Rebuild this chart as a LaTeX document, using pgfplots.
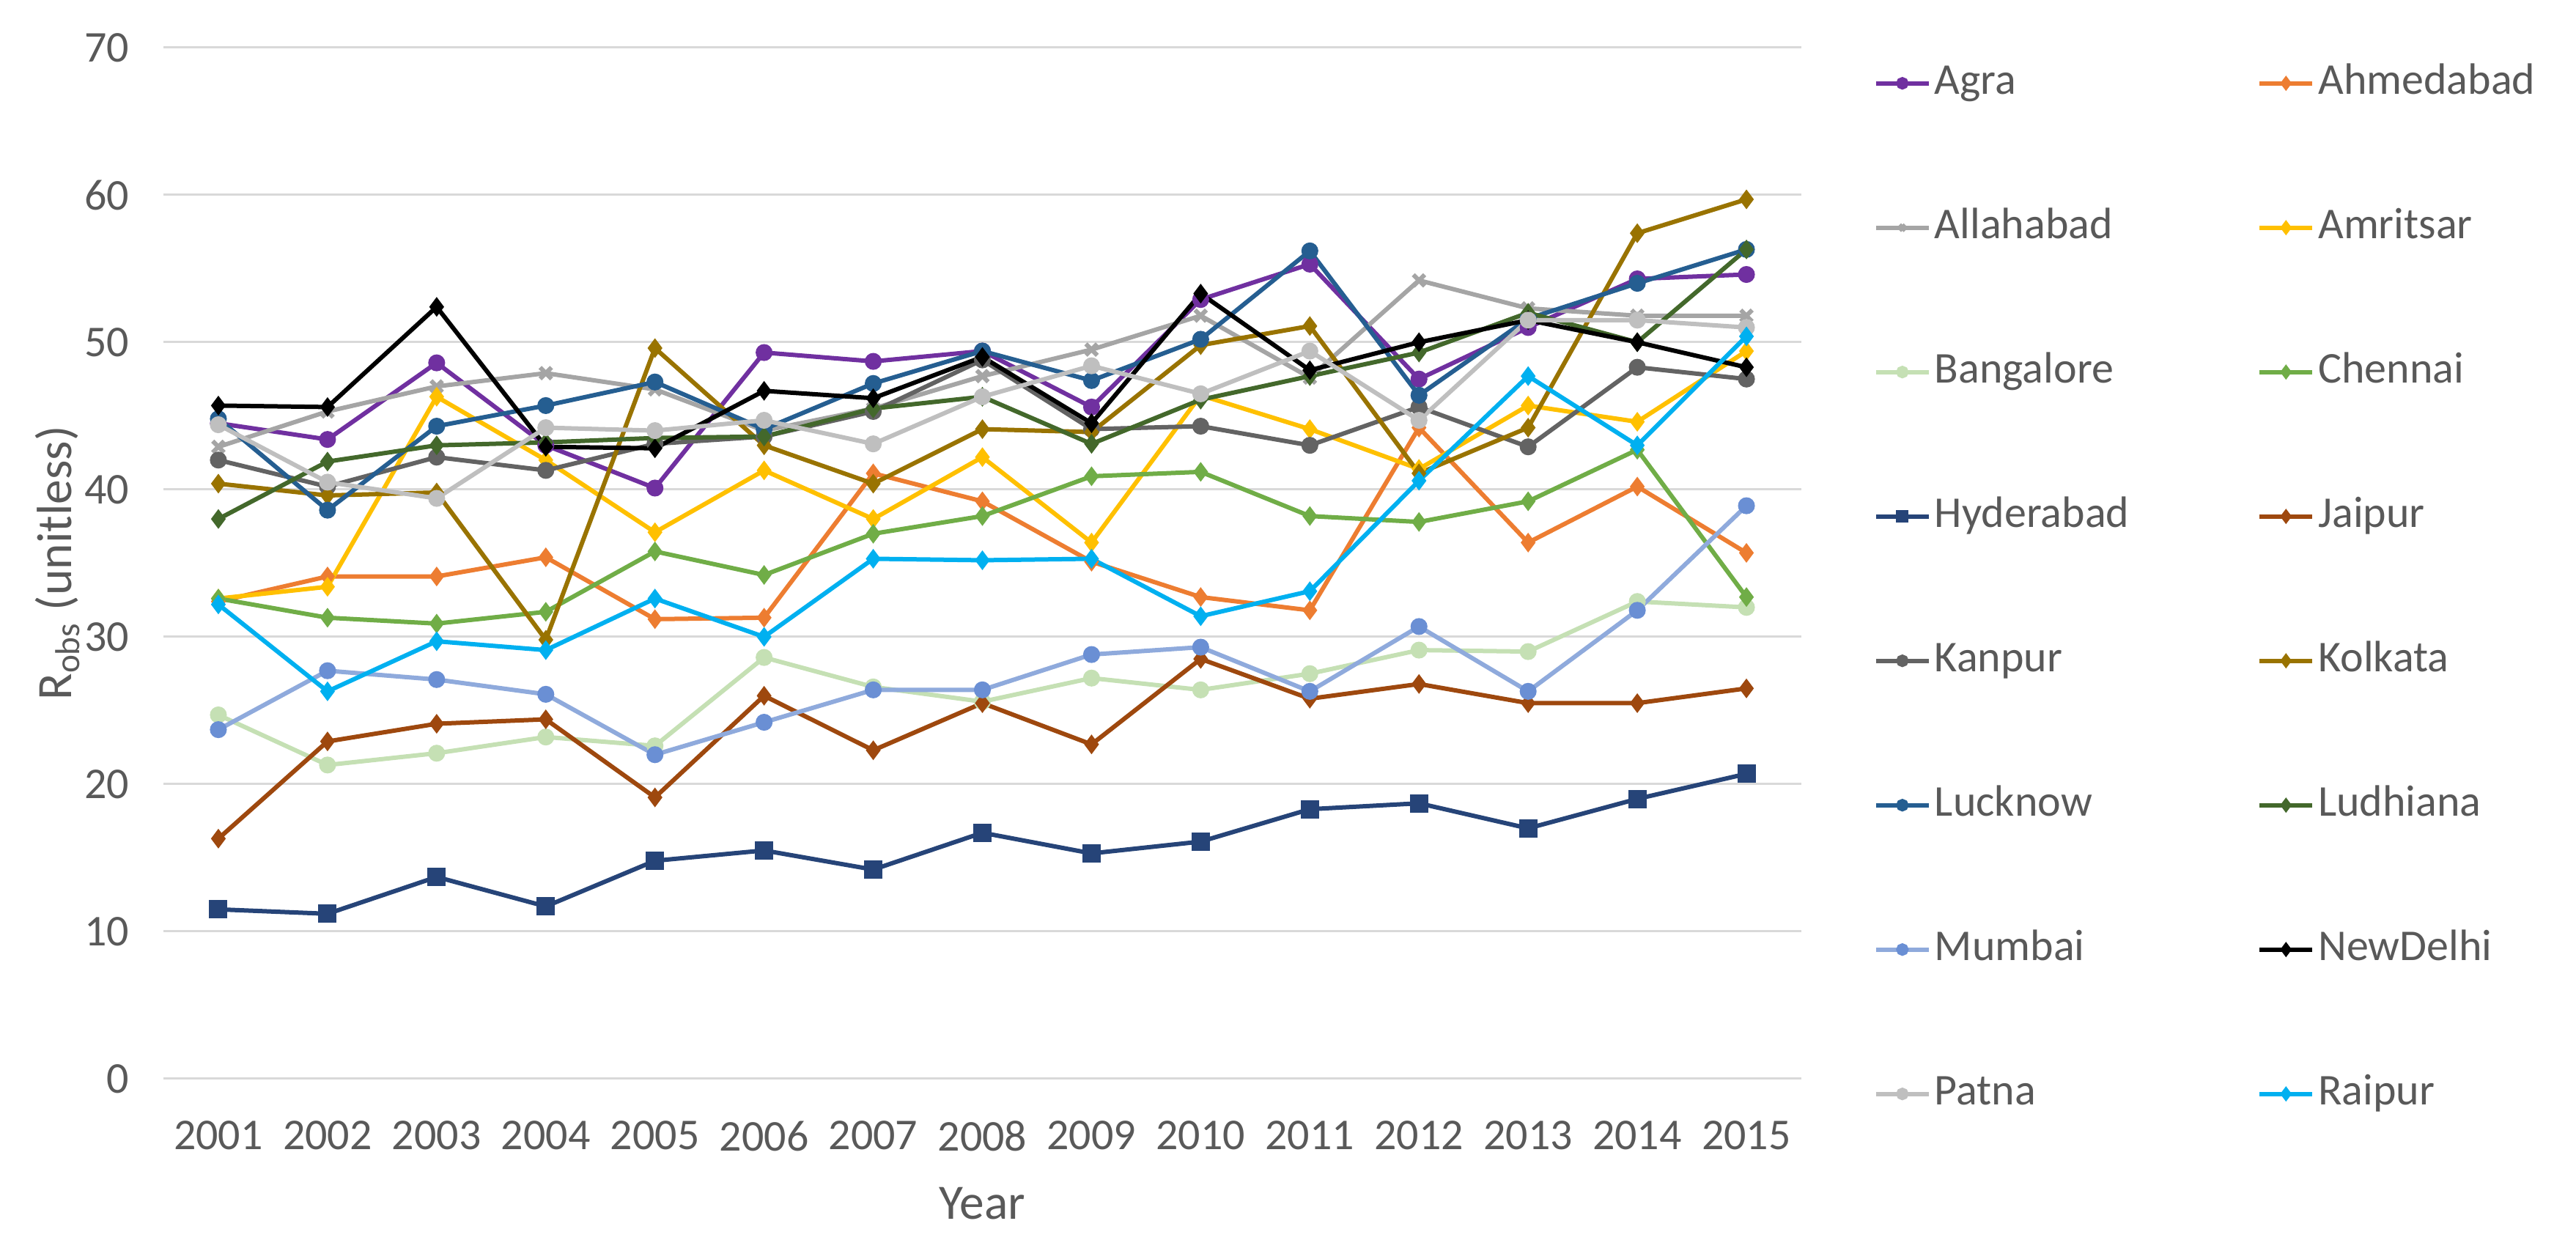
\documentclass[border=0pt]{standalone}
\usepackage{fontspec}
\setmainfont{Carlito}
\usepackage{pgfplots}
\usepackage{pgfplotstable}
\pgfplotsset{compat=1.18}

\definecolor{txt}{HTML}{595959}
\definecolor{gridc}{HTML}{D9D9D9}
\definecolor{cAgra}{HTML}{7030A0}
\definecolor{cAhmedabad}{HTML}{ED7D31}
\definecolor{cAllahabad}{HTML}{A5A5A5}
\definecolor{cAmritsar}{HTML}{FFC000}
\definecolor{cBangalore}{HTML}{C5E0B4}
\definecolor{cChennai}{HTML}{70AD47}
\definecolor{cHyderabad}{HTML}{264478}
\definecolor{cJaipur}{HTML}{9E480E}
\definecolor{cKanpur}{HTML}{636363}
\definecolor{cKolkata}{HTML}{997300}
\definecolor{cLucknow}{HTML}{255E91}
\definecolor{cLudhiana}{HTML}{43682B}
\definecolor{cMumbai}{HTML}{8FAADC}
\definecolor{cMumbaiMk}{HTML}{6A8FD4}
\definecolor{cNewDelhi}{HTML}{000000}
\definecolor{cPatna}{HTML}{BFBFBF}
\definecolor{cRaipur}{HTML}{00B0F0}

% Robs per city and year
\pgfplotstableread{
year Agra Ahmedabad Allahabad Amritsar Bangalore Chennai Hyderabad Jaipur Kanpur Kolkata Lucknow Ludhiana Mumbai NewDelhi Patna Raipur
2001 44.5 32.4 42.9 32.6 24.7 32.6 11.5 16.3 42.0 40.4 44.8 38.0 23.7 45.7 44.4 32.2
2002 43.4 34.1 45.3 33.4 21.3 31.3 11.2 22.9 40.2 39.6 38.6 41.9 27.7 45.6 40.5 26.3
2003 48.6 34.1 47.0 46.3 22.1 30.9 13.7 24.1 42.2 39.8 44.3 43.0 27.1 52.4 39.4 29.7
2004 43.0 35.4 47.9 42.0 23.2 31.7 11.7 24.4 41.3 29.8 45.7 43.2 26.1 42.9 44.2 29.1
2005 40.1 31.2 46.8 37.1 22.6 35.8 14.8 19.1 43.1 49.6 47.3 43.5 22.0 42.8 44.0 32.6
2006 49.3 31.3 44.0 41.3 28.6 34.2 15.5 26.0 43.6 43.0 44.1 43.6 24.2 46.7 44.7 30.0
2007 48.7 41.1 45.5 38.0 26.6 37.0 14.2 22.3 45.3 40.4 47.2 45.5 26.4 46.2 43.1 35.3
2008 49.4 39.2 47.7 42.2 25.6 38.2 16.7 25.5 48.8 44.1 49.4 46.3 26.4 49.0 46.3 35.2
2009 45.6 35.1 49.5 36.4 27.2 40.9 15.3 22.7 44.1 43.9 47.4 43.1 28.8 44.5 48.4 35.3
2010 52.9 32.7 51.8 46.4 26.4 41.2 16.1 28.5 44.3 49.8 50.2 46.1 29.3 53.3 46.5 31.4
2011 55.3 31.8 47.6 44.1 27.5 38.2 18.3 25.8 43.0 51.1 56.2 47.7 26.3 48.1 49.4 33.1
2012 47.5 44.2 54.2 41.4 29.1 37.8 18.7 26.8 45.6 41.1 46.4 49.3 30.7 50.0 44.7 40.6
2013 51.0 36.4 52.3 45.7 29.0 39.2 17.0 25.5 42.9 44.2 51.6 52.0 26.3 51.5 51.5 47.7
2014 54.3 40.2 51.8 44.6 32.4 42.7 19.0 25.5 48.3 57.4 54.0 50.0 31.8 50.0 51.5 43.0
2015 54.6 35.7 51.8 49.4 32.0 32.7 20.7 26.5 47.5 59.7 56.3 56.3 38.9 48.3 51.0 50.4
}\robs

\pgfplotsset{
  city/.style n args={3}{color=#1, line width=1.2pt, mark=#2,
    mark options={solid, fill=#3, draw=#3}},
}

\begin{document}
\begin{tikzpicture}
\path[use as bounding box] (-44.7pt,-47pt) rectangle (658.3pt,294.4pt);
\begin{axis}[
  at={(0,0)}, anchor=south west,
  scale only axis, width=446.8pt, height=281.4pt,
  xmin=2000.5, xmax=2015.5, ymin=0, ymax=70,
  xtick={2001,...,2015}, ytick={0,10,...,70},
  axis line style={draw=none}, major tick length=0pt,
  ymajorgrids, grid style={gridc, line width=0.6pt},
  /pgf/number format/assume math mode=true,
  /pgf/number format/1000 sep={},
  tick label style={font=\fontsize{12}{14}\selectfont, text=txt},
  xticklabel style={yshift=-8pt},
  yticklabel style={xshift=-6pt},
  xlabel={Year}, ylabel={R\textsubscript{obs} (unitless)},
  every axis x label/.style={at={(axis description cs:0.5,-0.1208)}, anchor=center,
    font=\fontsize{13.5}{16}\selectfont, text=txt},
  every axis y label/.style={at={(axis description cs:-0.0650,0.5)}, rotate=90, anchor=center,
    font=\fontsize{13.5}{16}\selectfont, text=txt},
  mark size=1.7pt,
  legend columns=2,
  legend cell align=left,
  legend style={at={(axis description cs:1.044,0.991)}, anchor=north west,
    draw=none, fill=none, inner sep=0pt, row sep=25.4pt,
    font=\fontsize{12}{14}\selectfont, text=txt,
    nodes={inner sep=1pt, text height=9pt, text depth=3pt},
    /tikz/every even column/.append style={column sep=34pt}},
  legend image code/.code={
    \draw[mark repeat=2, mark phase=2, #1, mark size=1.1pt]
      plot coordinates {(0pt,0pt) (7.2pt,0pt) (14.4pt,0pt)};},
]
\addplot[city={cAgra}{*}{cAgra}] table[x=year, y=Agra] {\robs};
\addlegendentry{Agra}
\addplot[city={cAhmedabad}{diamond*}{cAhmedabad}] table[x=year, y=Ahmedabad] {\robs};
\addlegendentry{Ahmedabad}
\addplot[city={cAllahabad}{x}{cAllahabad}, mark size=2.2pt] table[x=year, y=Allahabad] {\robs};
\addlegendentry{Allahabad}
\addplot[city={cAmritsar}{diamond*}{cAmritsar}] table[x=year, y=Amritsar] {\robs};
\addlegendentry{Amritsar}
\addplot[city={cBangalore}{*}{cBangalore}] table[x=year, y=Bangalore] {\robs};
\addlegendentry{Bangalore}
\addplot[city={cChennai}{diamond*}{cChennai}] table[x=year, y=Chennai] {\robs};
\addlegendentry{Chennai}
\addplot[city={cHyderabad}{square*}{cHyderabad}, mark size=1.9pt] table[x=year, y=Hyderabad] {\robs};
\addlegendentry{Hyderabad}
\addplot[city={cJaipur}{diamond*}{cJaipur}] table[x=year, y=Jaipur] {\robs};
\addlegendentry{Jaipur}
\addplot[city={cKanpur}{*}{cKanpur}] table[x=year, y=Kanpur] {\robs};
\addlegendentry{Kanpur}
\addplot[city={cKolkata}{diamond*}{cKolkata}] table[x=year, y=Kolkata] {\robs};
\addlegendentry{Kolkata}
\addplot[city={cLucknow}{*}{cLucknow}] table[x=year, y=Lucknow] {\robs};
\addlegendentry{Lucknow}
\addplot[city={cLudhiana}{diamond*}{cLudhiana}] table[x=year, y=Ludhiana] {\robs};
\addlegendentry{Ludhiana}
\addplot[city={cMumbai}{*}{cMumbaiMk}] table[x=year, y=Mumbai] {\robs};
\addlegendentry{Mumbai}
\addplot[city={cNewDelhi}{diamond*}{cNewDelhi}] table[x=year, y=NewDelhi] {\robs};
\addlegendentry{NewDelhi}
\addplot[city={cPatna}{*}{cPatna}] table[x=year, y=Patna] {\robs};
\addlegendentry{Patna}
\addplot[city={cRaipur}{diamond*}{cRaipur}] table[x=year, y=Raipur] {\robs};
\addlegendentry{Raipur}
\end{axis}
\end{tikzpicture}
\end{document}
